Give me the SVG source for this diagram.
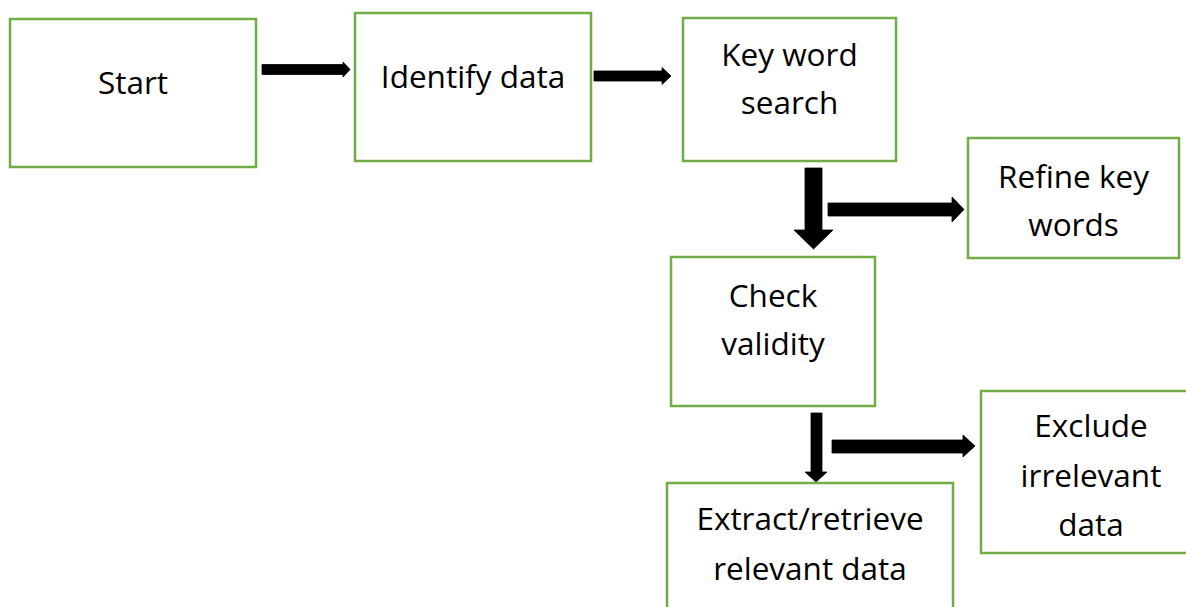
<svg xmlns="http://www.w3.org/2000/svg" width="1186" height="607" viewBox="0 0 1186 607">
  <style>
    .box { fill: #FFFFFF; stroke: #70AD47; stroke-width: 2.5; }
    .label { font-family: "Open Sans", "Noto Sans", "Liberation Sans", sans-serif; font-size: 31.5px; fill: #000000; text-anchor: middle; }
    .arrow { fill: #000000; stroke: #000000; stroke-width: 0.8; stroke-linejoin: round; }
  </style>
  <rect width="1186" height="607" fill="#FFFFFF"/>

  <!-- Block arrows between steps -->
  <g id="connectors">
    <polygon class="arrow" points="262,64.5 343,64.5 343,62 350,69.5 343,77 343,74.5 262,74.5"/>
    <polygon class="arrow" points="594,71 662,71 662,67.5 671,76 662,84.5 662,81 594,81"/>
    <polygon class="arrow" points="805,168 822,168 822,230 833,230 813.5,249 794,230 805,230"/>
    <polygon class="arrow" points="828,203 952,203 952,197 964,209.5 952,222 952,216 828,216"/>
    <polygon class="arrow" points="811,413 822,413 822,472 827,472 816,482 805,472 811,472"/>
    <polygon class="arrow" points="832,440 963,440 963,435 975,446 963,457 963,453 832,453"/>
  </g>

  <g id="start">
    <rect class="box" x="10" y="19" width="246" height="148"/>
    <text class="label" x="133" y="94">Start</text>
  </g>

  <g id="identify-data">
    <rect class="box" x="355" y="13" width="236" height="148"/>
    <text class="label" x="473" y="88">Identify data</text>
  </g>

  <g id="key-word-search">
    <rect class="box" x="683" y="18" width="213" height="143"/>
    <text class="label" x="789.5" y="66">Key word</text>
    <text class="label" x="789.5" y="114">search</text>
  </g>

  <g id="refine-key-words">
    <rect class="box" x="968" y="138" width="211" height="120"/>
    <text class="label" x="1073.5" y="188">Refine key</text>
    <text class="label" x="1073.5" y="236">words</text>
  </g>

  <g id="check-validity">
    <rect class="box" x="671" y="257" width="204" height="149"/>
    <text class="label" x="773" y="307">Check</text>
    <text class="label" x="773" y="355">validity</text>
  </g>

  <g id="extract-relevant-data">
    <rect class="box" x="667" y="483" width="286" height="140"/>
    <text class="label" x="810" y="530">Extract/retrieve</text>
    <text class="label" x="810" y="580">relevant data</text>
  </g>

  <g id="exclude-irrelevant-data">
    <rect class="box" x="981" y="391" width="220" height="162"/>
    <text class="label" x="1091" y="437">Exclude</text>
    <text class="label" x="1091" y="487">irrelevant</text>
    <text class="label" x="1091" y="536">data</text>
  </g>
</svg>
